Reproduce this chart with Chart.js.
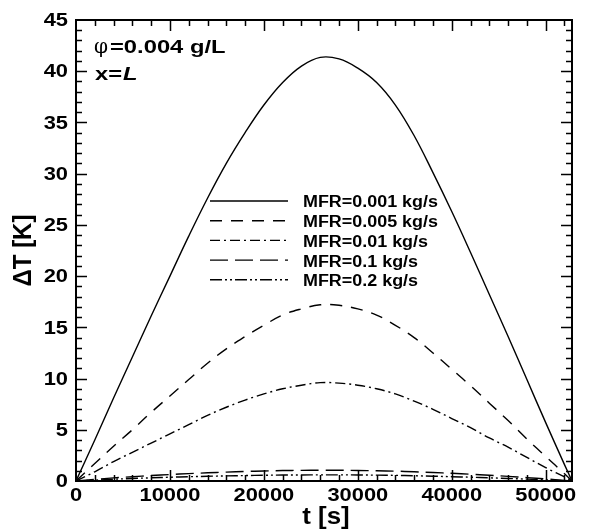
<!DOCTYPE html>
<html>
<head>
<meta charset="utf-8">
<script src="https://cdn.jsdelivr.net/npm/chart.js@4.4.1/dist/chart.umd.min.js"></script>
<style>
    html, body { margin: 0; padding: 0; background: #fff; }
    #wrap { width: 593px; height: 531px; }
</style>
</head>
<body>
<div id="wrap"><canvas id="dtChart" width="593" height="531"></canvas></div>
<script>
    "use strict";

    // time axis [s]
    var timeSec = [0, 2000, 4000, 6000, 8000, 10000, 12000, 14000, 16000, 18000, 20000, 22000, 24000, 26000,
                   28000, 30000, 32000, 34000, 36000, 38000, 40000, 42000, 44000, 46000, 48000, 50000, 52000, 52800];

    // temperature rise [K] per mass flow rate
    var mfr0001 = [0, 4.0, 8.1, 12.1, 16.1, 20.0, 23.9, 27.6, 31.0, 34.0, 36.7, 38.9, 40.5, 41.35,
                   41.2, 40.3, 38.9, 36.7, 33.7, 30.1, 26.3, 22.3, 18.2, 14.1, 9.9, 5.7, 1.6, 0];
    var mfr0005 = [0, 1.7, 3.4, 5.0, 6.7, 8.3, 9.9, 11.5, 12.9, 14.1, 15.2, 16.2, 16.8, 17.2,
                   17.15, 16.8, 16.2, 15.2, 14.0, 12.5, 10.9, 9.3, 7.6, 5.9, 4.1, 2.4, 0.7, 0];
    var mfr001 = [0, 0.9, 1.9, 2.8, 3.7, 4.6, 5.5, 6.4, 7.2, 7.9, 8.5, 9.0, 9.35, 9.6,
                  9.55, 9.35, 9.0, 8.5, 7.8, 7.0, 6.1, 5.2, 4.2, 3.3, 2.3, 1.3, 0.4, 0];
    var mfr01 = [0, 0.15, 0.3, 0.42, 0.53, 0.63, 0.72, 0.8, 0.87, 0.93, 0.98, 1.02, 1.04, 1.05,
                 1.05, 1.03, 1.0, 0.96, 0.9, 0.83, 0.75, 0.66, 0.56, 0.45, 0.33, 0.2, 0.06, 0];
    var mfr02 = [0, 0.08, 0.17, 0.25, 0.31, 0.37, 0.42, 0.46, 0.5, 0.53, 0.56, 0.58, 0.59, 0.6,
                 0.6, 0.59, 0.57, 0.55, 0.51, 0.47, 0.42, 0.37, 0.31, 0.25, 0.18, 0.11, 0.03, 0];

    var seriesLabels = ["MFR=0.001 kg/s", "MFR=0.005 kg/s", "MFR=0.01 kg/s", "MFR=0.1 kg/s", "MFR=0.2 kg/s"];
    var seriesValues = [mfr0001, mfr0005, mfr001, mfr01, mfr02];
    var seriesDash = [[], [12, 9], [10, 4, 2, 4], [18, 7], [12, 3, 2, 3, 2, 3]];

    var xTickLabels = [0, 10000, 20000, 30000, 40000, 50000];
    var yTickLabels = [0, 5, 10, 15, 20, 25, 30, 35, 40, 45];

    var xMax = 52800, yMax = 45;
    var FONT = "'Liberation Sans', Arial, Helvetica, sans-serif";

    function toPoints(vals) {
        var pts = [];
        for (var i = 0; i < timeSec.length; i++) {
            pts.push({ x: timeSec[i], y: vals[i] });
        }
        return pts;
    }

    // text in the reference is a bit wide, so stretch it horizontally
    function wideText(ctx, txt, x, y, align, sx) {
        ctx.save();
        ctx.translate(x, y);
        ctx.scale(sx, 1);
        ctx.textAlign = align;
        ctx.fillText(txt, 0, 0);
        ctx.restore();
    }

    var framePlugin = {
        id: 'tecFrame',
        afterDraw: function (chart) {
            var ctx = chart.ctx, a = chart.chartArea;
            var xs = chart.scales.x, ys = chart.scales.y;
            var i, px, py, len;

            ctx.save();
            ctx.strokeStyle = '#000';
            ctx.fillStyle = '#000';

            // inward ticks on all four sides
            ctx.lineWidth = 1.5;
            ctx.beginPath();
            for (i = 2000; i < xMax; i += 2000) {
                px = Math.round(xs.getPixelForValue(i)) + 0.5;
                len = (i % 10000 === 0) ? 11 : 6;
                ctx.moveTo(px, a.bottom); ctx.lineTo(px, a.bottom - len);
                ctx.moveTo(px, a.top); ctx.lineTo(px, a.top + len);
            }
            for (i = 1; i < yMax; i += 1) {
                py = Math.round(ys.getPixelForValue(i)) + 0.5;
                len = (i % 5 === 0) ? 11 : 6;
                ctx.moveTo(a.left, py); ctx.lineTo(a.left + len, py);
                ctx.moveTo(a.right, py); ctx.lineTo(a.right - len, py);
            }
            ctx.stroke();

            ctx.lineWidth = 2;
            ctx.strokeRect(a.left, a.top, a.right - a.left, a.bottom - a.top);

            // tick labels
            ctx.font = "bold 19px " + FONT;
            ctx.textBaseline = 'middle';
            yTickLabels.forEach(function (v) {
                wideText(ctx, String(v), a.left - 8, ys.getPixelForValue(v) + 1, 'right', 1.15);
            });
            ctx.textBaseline = 'alphabetic';
            xTickLabels.forEach(function (v) {
                wideText(ctx, String(v), xs.getPixelForValue(v), a.bottom + 20, 'center', 1.15);
            });

            // axis titles
            ctx.font = "bold 24px " + FONT;
            wideText(ctx, "t [s]", (a.left + a.right) / 2 + 2, 524, 'center', 1.08);
            ctx.save();
            ctx.translate(31, (a.top + a.bottom) / 2);
            ctx.rotate(-Math.PI / 2);
            ctx.scale(1, 1.1);
            ctx.textAlign = 'center';
            ctx.fillText("\u0394T [K]", 0, 0);
            ctx.restore();

            // annotation
            ctx.textAlign = 'left';
            ctx.font = "20px 'DejaVu Serif', serif";
            ctx.fillText("\u03c6", 94, 53);
            ctx.font = "bold 19px " + FONT;
            wideText(ctx, "=0.004 g/L", 110, 53, 'left', 1.25);
            wideText(ctx, "x=", 95, 80, 'left', 1.25);
            var lx = 95 + ctx.measureText("x=").width * 1.25 + 1;
            ctx.font = "italic bold 19px " + FONT;
            wideText(ctx, "L", lx, 80, 'left', 1.25);

            // legend
            ctx.font = "bold 16px " + FONT;
            ctx.textBaseline = 'middle';
            for (i = 0; i < seriesLabels.length; i++) {
                py = 202 + i * 19.7;
                ctx.lineWidth = 1.4;
                ctx.setLineDash(seriesDash[i]);
                ctx.beginPath();
                ctx.moveTo(210, py - 1);
                ctx.lineTo(288, py - 1);
                ctx.stroke();
                ctx.setLineDash([]);
                wideText(ctx, seriesLabels[i], 303, py + 1, 'left', 1.12);
            }
            ctx.restore();
        }
    };

    var datasets = [];
    for (var k = 0; k < seriesValues.length; k++) {
        datasets.push({
            label: seriesLabels[k],
            data: toPoints(seriesValues[k]),
            borderColor: '#000',
            backgroundColor: 'transparent',
            borderWidth: 1.4,
            borderDash: seriesDash[k],
            pointRadius: 0,
            fill: false,
            tension: 0.4
        });
    }

    var chart = new Chart(document.getElementById('dtChart').getContext('2d'), {
        type: 'line',
        data: { datasets: datasets },
        options: {
            responsive: false,
            animation: false,
            devicePixelRatio: 1,
            layout: {
                autoPadding: false,
                padding: { left: 76, top: 20, right: 21, bottom: 50 }
            },
            plugins: {
                legend: { display: false },
                tooltip: { enabled: false }
            },
            scales: {
                x: { type: 'linear', min: 0, max: xMax, display: false },
                y: { type: 'linear', min: 0, max: yMax, display: false }
            }
        },
        plugins: [framePlugin]
    });
</script>
</body>
</html>
